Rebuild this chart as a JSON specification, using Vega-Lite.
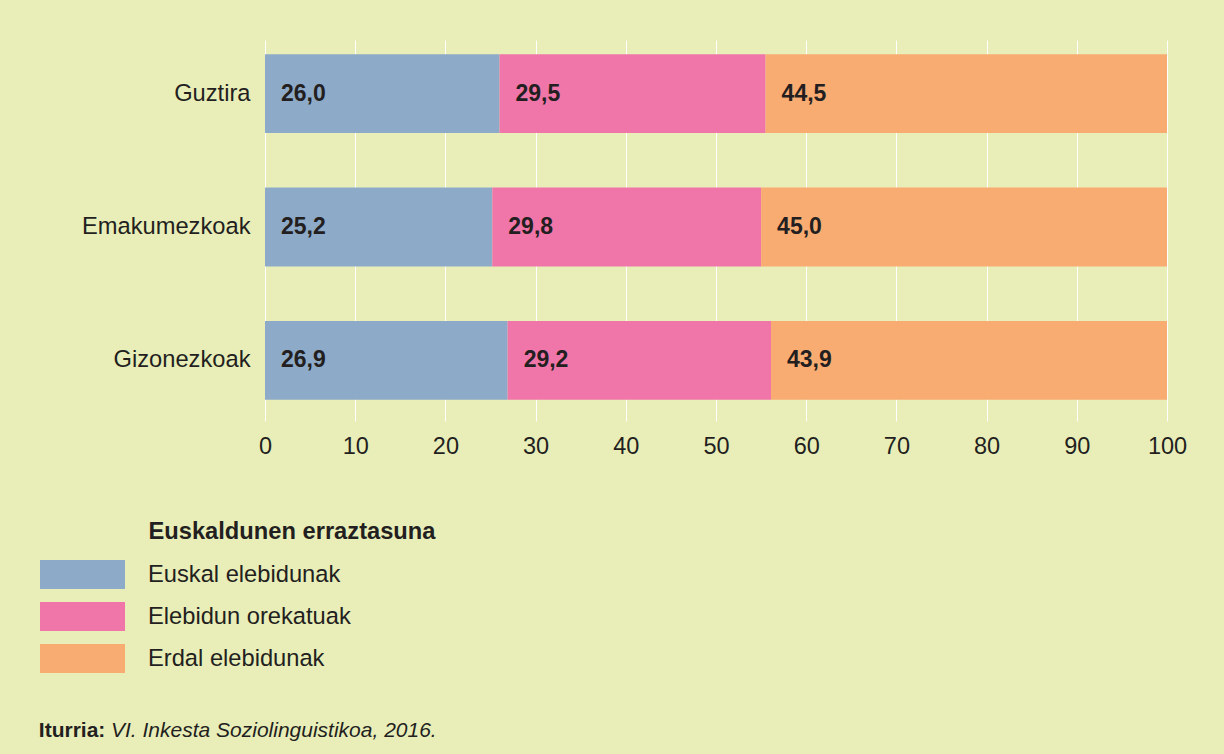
{
  "$schema": "https://vega.github.io/schema/vega-lite/v6.json",
  "width": 902,
  "height": 374,
  "autosize": {"type": "none"},
  "padding": {"left": 265, "top": 40, "right": 57, "bottom": 340},
  "background": "#e9eeb9",
  "config": {
    "locale": {"number": {"decimal": ",", "thousands": ".", "grouping": [3], "currency": ["", " €"]}},
    "view": {"stroke": null},
    "font": "Liberation Sans",
    "text": {"font": "Liberation Sans"}
  },
  "data": {
    "values": [
      {"group": "Guztira", "category": "Euskal elebidunak", "order": 1, "value": 26.0},
      {"group": "Guztira", "category": "Elebidun orekatuak", "order": 2, "value": 29.5},
      {"group": "Guztira", "category": "Erdal elebidunak", "order": 3, "value": 44.5},
      {"group": "Emakumezkoak", "category": "Euskal elebidunak", "order": 1, "value": 25.2},
      {"group": "Emakumezkoak", "category": "Elebidun orekatuak", "order": 2, "value": 29.8},
      {"group": "Emakumezkoak", "category": "Erdal elebidunak", "order": 3, "value": 45.0},
      {"group": "Gizonezkoak", "category": "Euskal elebidunak", "order": 1, "value": 26.9},
      {"group": "Gizonezkoak", "category": "Elebidun orekatuak", "order": 2, "value": 29.2},
      {"group": "Gizonezkoak", "category": "Erdal elebidunak", "order": 3, "value": 43.9}
    ]
  },
  "encoding": {
    "y": {
      "field": "group",
      "type": "nominal",
      "sort": ["Guztira", "Emakumezkoak", "Gizonezkoak"],
      "scale": {"paddingInner": 0.41, "paddingOuter": 0.106},
      "axis": {
        "domain": false,
        "ticks": false,
        "grid": false,
        "labelFontSize": 23.7,
        "labelColor": "#231f20",
        "labelPadding": 15,
        "labelFont": "Liberation Sans",
        "labelLimit": 400,
        "title": "Iturria:",
        "titleAngle": 0,
        "titleX": -226.7,
        "titleY": 696.7,
        "titleAlign": "left",
        "titleBaseline": "alphabetic",
        "titleFontSize": 21,
        "titleFontWeight": "bold",
        "titleColor": "#231f20",
        "titleFont": "Liberation Sans"
      }
    }
  },
  "layer": [
    {
      "mark": {"type": "bar"},
      "encoding": {
        "x": {
          "field": "value",
          "type": "quantitative",
          "stack": "zero",
          "scale": {"domain": [0, 100]},
          "axis": {
            "orient": "bottom",
            "values": [0, 10, 20, 30, 40, 50, 60, 70, 80, 90, 100],
            "grid": true,
            "gridColor": "#ffffff",
            "gridWidth": 1,
            "gridOpacity": 1,
            "domain": false,
            "ticks": true,
            "tickColor": "#ffffff",
            "tickSize": 7,
            "labelFontSize": 23.5,
            "labelColor": "#231f20",
            "labelPadding": 13,
            "labelFlush": false,
            "labelOverlap": false,
            "labelFont": "Liberation Sans",
            "title": "Euskaldunen erraztasuna",
            "titleX": -117,
            "titleY": 124.3,
            "titleAlign": "left",
            "titleBaseline": "alphabetic",
            "titleFontSize": 23.7,
            "titleFontWeight": "bold",
            "titleColor": "#231f20",
            "titleFont": "Liberation Sans"
          }
        },
        "color": {
          "field": "category",
          "type": "nominal",
          "scale": {
            "domain": ["Euskal elebidunak", "Elebidun orekatuak", "Erdal elebidunak"],
            "range": ["#8eaac9", "#f076aa", "#f9ac72"]
          },
          "legend": {
            "orient": "none",
            "legendX": -209,
            "legendY": 508,
            "title": null,
            "direction": "vertical",
            "padding": 0,
            "symbolType": "M-1.6038,-0.5472H1.6038V0.5472H-1.6038Z",
            "symbolSize": 2809,
            "symbolStrokeWidth": 0,
            "symbolOpacity": 1,
            "labelFontSize": 23.7,
            "labelColor": "#231f20",
            "labelFont": "Liberation Sans",
            "labelLimit": 400,
            "labelOffset": 39,
            "rowPadding": 0
          }
        },
        "order": {"field": "order", "type": "quantitative"}
      }
    },
    {
      "transform": [
        {"stack": "value", "groupby": ["group"], "sort": [{"field": "order"}], "as": ["v0", "v1"]}
      ],
      "mark": {
        "type": "text",
        "align": "left",
        "baseline": "middle",
        "dx": 16,
        "fontWeight": "bold",
        "fontSize": 23,
        "color": "#231f20",
        "font": "Liberation Sans"
      },
      "encoding": {
        "x": {
          "field": "v0",
          "type": "quantitative",
          "scale": {"domain": [0, 100]},
          "axis": {
            "orient": "top",
            "labels": false,
            "ticks": false,
            "domain": false,
            "grid": false,
            "title": "VI. Inkesta Soziolinguistikoa, 2016.",
            "titleX": -154.5,
            "titleY": 696.7,
            "titleAlign": "left",
            "titleBaseline": "alphabetic",
            "titleFontSize": 21,
            "titleFontWeight": "normal",
            "titleFontStyle": "italic",
            "titleColor": "#231f20",
            "titleFont": "Liberation Sans"
          }
        },
        "text": {"field": "value", "type": "quantitative", "format": ".1f"}
      }
    }
  ],
  "resolve": {"axis": {"x": "independent"}}
}
